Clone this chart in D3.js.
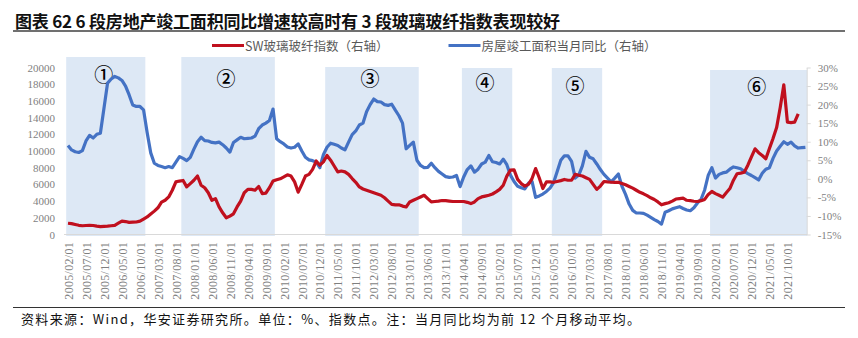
<!DOCTYPE html>
<html>
<head>
<meta charset="utf-8">
<script src="https://cdn.jsdelivr.net/npm/d3@7"></script>
<style>
  html, body { margin: 0; padding: 0; background: #fff; }
  svg { display: block; }
</style>
</head>
<body>
<svg id="chart" width="858" height="338"></svg>
<script>
// x-axis tick labels (every fifth month)
const tickLabels = [
  "2005/02/01","2005/07/01","2005/12/01","2006/05/01","2006/10/01","2007/03/01","2007/08/01",
  "2008/01/01","2008/06/01","2008/11/01","2009/04/01","2009/09/01","2010/02/01","2010/07/01",
  "2010/12/01","2011/05/01","2011/10/01","2012/03/01","2012/08/01","2013/01/01","2013/06/01",
  "2013/11/01","2014/04/01","2014/09/01","2015/02/01","2015/07/01","2015/12/01","2016/05/01",
  "2016/10/01","2017/03/01","2017/08/01","2018/01/01","2018/06/01","2018/11/01","2019/04/01",
  "2019/09/01","2020/02/01","2020/07/01","2020/12/01","2021/05/01","2021/10/01"
];

// SW 玻璃玻纤指数, monthly from 2005/02
const glassIndex = [
  1350,1300,1200,1100,1050,1080,1100,1080,1000,950,980,1000,1050,1100,1350,1600,1550,1450,1480,1500,
  1600,1850,2100,2450,2800,3200,3870,4100,4500,5300,6300,6400,6470,5700,6100,6500,7000,5900,5600,5000,
  4100,4300,3300,2600,2000,2200,2480,3300,4000,5000,5400,5400,5300,5750,4900,4950,5600,6400,6550,6670,
  6900,7150,7000,6300,5070,6000,7000,7200,7800,8800,8300,8700,9460,8900,8200,7500,7600,7500,7200,6700,
  6250,5700,5450,5300,5150,5000,4850,4700,4400,4000,3600,3550,3560,3400,3300,3900,4100,4300,4500,4700,
  4300,3900,3950,4000,4070,4050,4000,3950,3950,3950,3950,3850,3700,3900,4300,4500,4600,4700,4850,5100,
  5400,5900,7000,7700,7750,6600,6100,5800,6000,6700,7900,6800,5500,6300,6300,6250,6350,6450,6590,6500,
  6500,7200,7100,7000,6800,6600,6000,5400,5800,6350,6300,6260,6250,6260,6100,5950,5750,5550,5300,5050,
  4870,4650,4400,4190,3900,3560,3700,3800,4000,4250,4300,4350,4100,4050,3980,3950,4050,4200,4800,5150,
  4900,4700,4470,5000,5500,6500,7270,7350,7460,8300,9300,10260,9800,9460,9070,10300,11500,12800,15200,17930,
  13450,13400,13450,14450
];

// 房屋竣工面积当月同比 (%), monthly from 2005/02
const completionYoY = [
  9.0,7.8,7.3,7.1,7.6,10.2,11.7,11.0,12.0,12.3,19.0,25.8,26.9,27.6,27.2,26.5,25.0,22.6,19.9,19.5,
  19.5,18.6,12.5,7.0,4.2,3.6,3.3,3.0,3.3,3.0,4.5,6.0,5.5,4.9,5.8,8.0,10.0,11.2,10.3,10.2,
  9.8,9.7,9.9,9.2,8.3,7.2,9.8,10.5,11.2,10.8,10.9,11.0,11.5,13.5,14.5,15.0,15.7,18.8,10.8,10.0,
  9.4,8.6,8.3,8.5,9.4,7.5,5.8,5.1,4.9,4.5,3.0,6.5,8.5,9.6,9.3,9.0,8.3,7.8,9.9,11.9,
  12.9,14.5,15.0,18.1,20.0,21.5,20.8,20.7,20.0,19.8,20.1,18.5,17.0,15.0,8.1,9.0,9.9,5.0,3.6,3.0,
  3.1,4.2,3.0,2.0,1.3,0.6,0.4,0.5,0.9,-2.1,0.5,2.5,3.5,1.8,2.6,4.0,4.5,6.3,4.6,4.4,
  4.0,5.3,3.8,1.0,-0.7,-2.0,-2.4,-2.7,-1.2,-0.7,-5.0,-4.6,-4.1,-3.4,-2.5,-1.0,2.0,5.0,6.2,6.2,
  4.7,0.2,1.0,3.5,7.4,5.8,5.4,4.0,2.5,1.2,0.2,-0.8,0.2,1.3,-2.0,-4.2,-6.8,-8.5,-9.2,-9.2,
  -9.3,-9.8,-10.4,-11.0,-11.5,-12.2,-9.0,-8.6,-8.1,-7.8,-7.5,-8.0,-8.4,-8.6,-7.8,-6.5,-5.5,-3.0,1.0,3.0,
  0.2,1.2,1.6,1.8,2.6,3.2,3.0,2.7,2.0,1.4,0.9,0.3,-0.3,1.5,2.6,3.0,5.5,7.5,8.8,10.0,
  9.3,9.9,8.9,8.3,8.4,8.5
];

const leftTicks = [0,2000,4000,6000,8000,10000,12000,14000,16000,18000,20000];
const rightTicks = [-15,-10,-5,0,5,10,15,20,25,30];

// highlighted periods
const bandStart = ["2005/02/01","2007/10/01","2011/02/01","2014/04/01","2016/05/01","2020/01/01"];
const bandEnd   = ["2006/11/01","2009/11/01","2013/03/01","2015/05/01","2017/06/01","2022/03/01"];
const bandMarks = ["①","②","③","④","⑤","⑥"];

const seriesNames = ["SW玻璃玻纤指数（右轴）", "房屋竣工面积当月同比（右轴）"];

// ---------- drawing ----------
const svg = d3.select("#chart");
const serif = "'Liberation Serif', 'Times New Roman', serif";
const cjk = "'Noto Sans CJK SC', sans-serif";
const gray = "#7f7f7f";
const red = "#c0101e";
const blue = "#4472c4";

const months = d3.range(completionYoY.length)
  .map(i => d3.timeFormat("%Y/%m/01")(new Date(2005, 1 + i, 1)));

const x = d3.scalePoint().domain(months).range([68, 805.4]);
const half = x.step() / 2;
const yL = d3.scaleLinear().domain([0, 20000]).range([234.5, 67.5]);
const yR = d3.scaleLinear().domain([-15, 30]).range([234.5, 67.5]);

// shaded periods
const bandTop = [57, 57, 67, 68, 68, 70];
const markY = [73, 77, 77, 81, 84, 85];
const bands = svg.append("g");
bandStart.forEach((s, k) => {
  const x0 = x(s) - half, x1 = x(bandEnd[k]) + half;
  bands.append("rect")
    .attr("x", x0).attr("y", bandTop[k])
    .attr("width", x1 - x0).attr("height", 236 - bandTop[k])
    .attr("fill", "#dde8f5");
  bands.append("text")
    .attr("x", (x0 + x1) / 2 - 2).attr("y", markY[k])
    .attr("text-anchor", "middle").attr("dominant-baseline", "central")
    .attr("font-family", cjk).attr("font-size", 19).attr("font-weight", 500).attr("fill", "#000")
    .text(bandMarks[k]);
});

// x baseline
svg.append("line")
  .attr("x1", 64).attr("x2", 807).attr("y1", 234.5).attr("y2", 234.5)
  .attr("stroke", "#d9d9d9").attr("stroke-width", 1);

// left axis
const gl = svg.append("g").attr("transform", "translate(66,0)")
  .call(d3.axisLeft(yL).tickValues(leftTicks).tickSize(0).tickPadding(11).tickFormat(d3.format("d")));
gl.select(".domain").remove();
gl.selectAll("text").attr("font-family", serif).attr("font-size", 11).attr("fill", gray);

// right axis
const gr = svg.append("g").attr("transform", "translate(806.7,0)")
  .call(d3.axisRight(yR).tickValues(rightTicks).tickSize(4).tickSizeOuter(0).tickPadding(7)
    .tickFormat(d => d + "%"));
gr.select(".domain").attr("stroke", "#d9d9d9");
gr.selectAll(".tick line").attr("stroke", "#d9d9d9");
gr.selectAll("text").attr("font-family", serif).attr("font-size", 11).attr("fill", gray);

// bottom axis with rotated date labels
const gb = svg.append("g").attr("transform", "translate(0,242)")
  .call(d3.axisBottom(x).tickValues(tickLabels).tickSize(0));
gb.select(".domain").remove();
gb.selectAll("text")
  .attr("transform", "rotate(-90)")
  .attr("x", 0).attr("y", 0).attr("dy", "0.35em")
  .attr("text-anchor", "end")
  .attr("font-family", serif).attr("font-size", 12).attr("letter-spacing", 0.3)
  .attr("fill", gray);

// lines
const lineL = d3.line().x((d, i) => x(months[i])).y(d => yL(d));
const lineR = d3.line().x((d, i) => x(months[i])).y(d => yR(d));

svg.append("path").datum(completionYoY)
  .attr("d", lineR).attr("fill", "none").attr("stroke", blue)
  .attr("stroke-width", 3.2).attr("stroke-linejoin", "round");
svg.append("path").datum(glassIndex)
  .attr("d", lineL).attr("fill", "none").attr("stroke", red)
  .attr("stroke-width", 3.2).attr("stroke-linejoin", "round");

// legend
const legend = [
  { name: seriesNames[0], color: red, x: 212 },
  { name: seriesNames[1], color: blue, x: 448.5 }
];
legend.forEach(l => {
  svg.append("line").attr("x1", l.x).attr("x2", l.x + 32).attr("y1", 45.5).attr("y2", 45.5)
    .attr("stroke", l.color).attr("stroke-width", 3);
  svg.append("text").attr("x", l.x + 33).attr("y", 45.5)
    .attr("dominant-baseline", "central")
    .attr("font-family", cjk).attr("font-size", 12.5).attr("fill", "#595959")
    .text(l.name);
});

// title and rules
svg.append("text").attr("x", 15).attr("y", 20)
  .attr("dominant-baseline", "central")
  .attr("font-family", cjk).attr("font-size", 17).attr("font-weight", 700).attr("fill", "#111")
  .attr("textLength", 545).attr("lengthAdjust", "spacing")
  .text("图表 62 6 段房地产竣工面积同比增速较高时有 3 段玻璃玻纤指数表现较好");
svg.append("line").attr("x1", 13).attr("x2", 845).attr("y1", 31).attr("y2", 31)
  .attr("stroke", "#404040").attr("stroke-width", 1.5);
svg.append("line").attr("x1", 13).attr("x2", 845).attr("y1", 307.5).attr("y2", 307.5)
  .attr("stroke", "#333").attr("stroke-width", 1);

svg.append("text").attr("x", 21).attr("y", 318.5)
  .attr("dominant-baseline", "central")
  .attr("font-family", cjk).attr("font-size", 13).attr("fill", "#111")
  .attr("textLength", 619).attr("lengthAdjust", "spacing")
  .text("资料来源：Wind，华安证券研究所。单位：%、指数点。注：当月同比均为前 12 个月移动平均。");
</script>
</body>
</html>
